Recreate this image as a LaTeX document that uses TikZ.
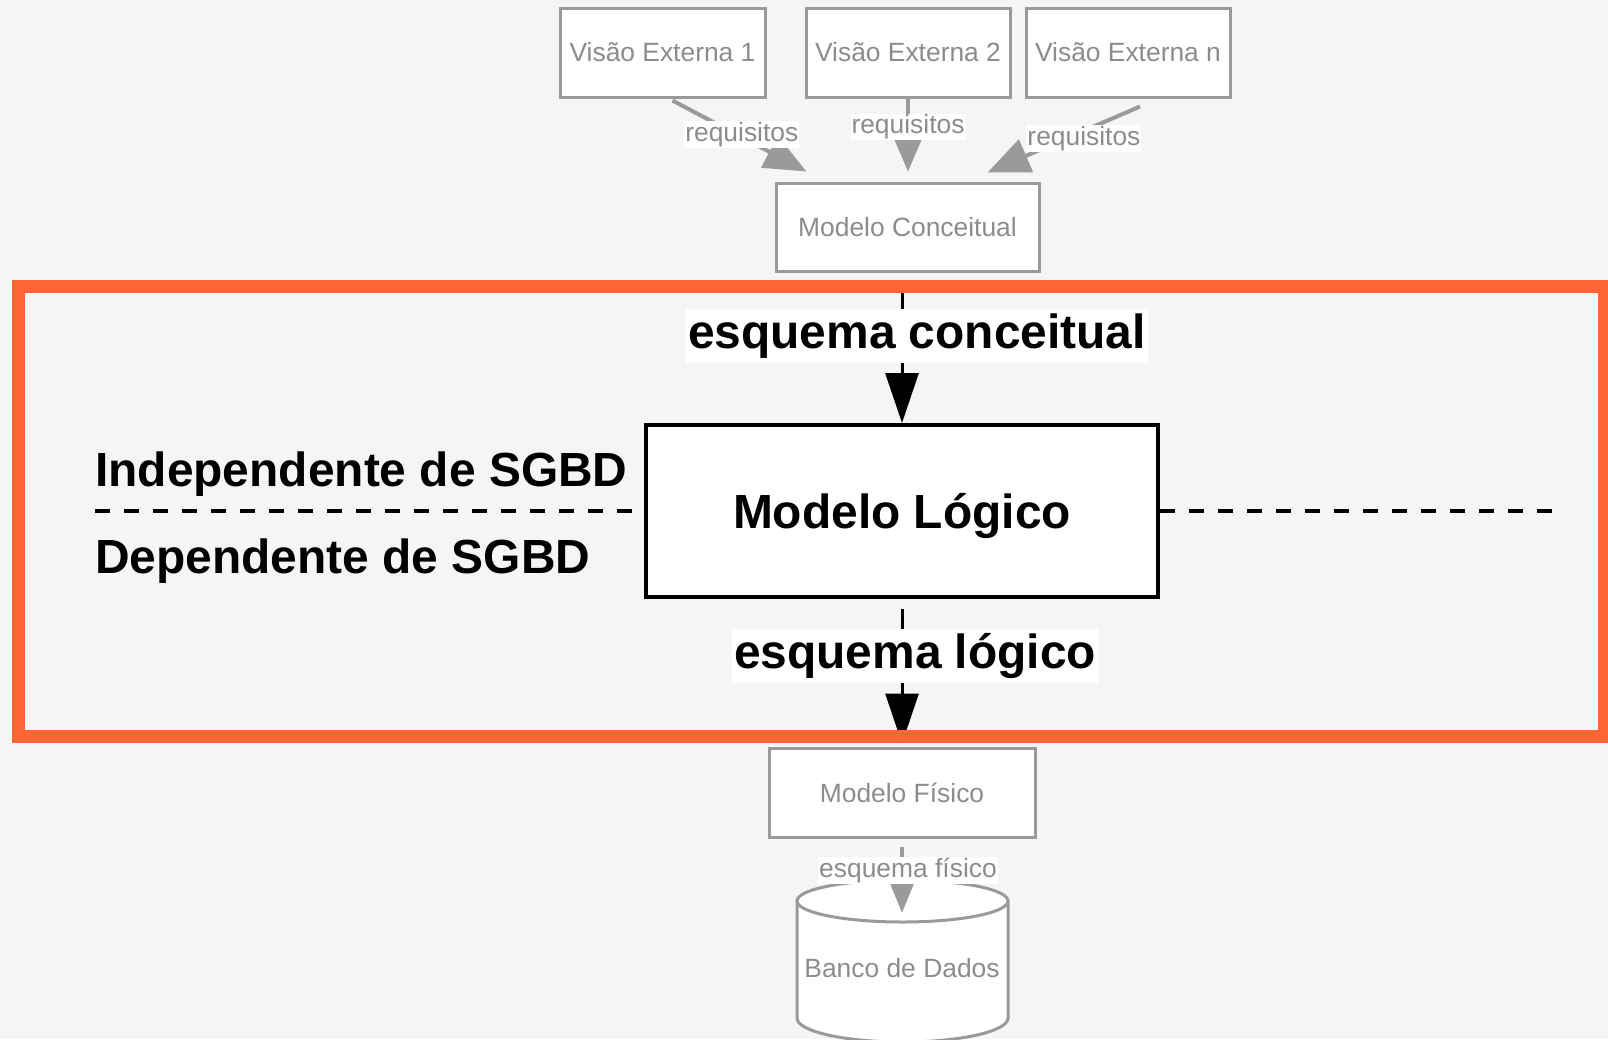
\documentclass[tikz,border=0pt]{standalone}
\usepackage{fontspec}
\setmainfont{Liberation Sans}
\usepackage{xcolor}
\usepackage{tikz}
\usetikzlibrary{arrows.meta}

\definecolor{fundo}{HTML}{F5F5F3}
\definecolor{cinza}{HTML}{9A9A9A}
\definecolor{cinzatxt}{HTML}{8C8C8C}
\definecolor{laranja}{HTML}{FF6633}

\begin{document}
\begin{tikzpicture}[x=1pt,y=-1pt,
 caixa/.style={draw=cinza, line width=3pt, fill=white, text=cinzatxt, font=\fontsize{26.4}{30}\selectfont, minimum height=89pt, inner sep=0pt},
 rot/.style={fill=white, text=cinzatxt, font=\fontsize{26.4}{30}\selectfont, inner sep=1pt},
 seta/.style={draw=cinza, line width=4pt, -{Triangle[length=42pt,width=35pt]}},
 negrito/.style={font=\fontsize{47.9}{55}\selectfont\bfseries},
 setap/.style={line width=3pt, -{Triangle[length=50pt,width=33pt]}},
 rotp/.style={negrito, fill=white, inner xsep=2pt, inner ysep=4.5pt},
 tracejado/.style={line width=4pt, dash pattern=on 15pt off 14pt}]
\useasboundingbox[fill=fundo] (0,0) rectangle (1608,1039);
\node[caixa, minimum width=205pt] (VE1) at (662.5,52.5) {Visão Externa 1};
\node[caixa, minimum width=204pt] (VE2) at (908,52.5) {Visão Externa 2};
\node[caixa, minimum width=204pt] (VEn) at (1128,52.5) {Visão Externa n};
\node[caixa, minimum width=263pt, minimum height=88pt] (MC) at (907.5,227) {Modelo Conceitual};
\draw[seta] ([xshift=10pt,yshift=-2pt]VE1.south) -- node[rot, pos=.48, xshift=5pt]{requisitos} ([xshift=32pt,yshift=10pt]MC.north west);
\draw[seta] (VE2.south) -- node[rot, pos=.39]{requisitos} ([yshift=10pt]MC.north -| VE2.south);
\draw[seta] ([xshift=12pt,yshift=-8pt]VEn.south) -- node[rot, pos=.42, xshift=8pt, yshift=-4pt]{requisitos} ([xshift=-53pt,yshift=9pt]MC.north east);
\node[draw, line width=4pt, fill=white, negrito, minimum width=512pt, minimum height=172pt, text height=44pt, text depth=10pt] (ML) at (902,511) {Modelo Lógico};
\coordinate (esq) at (95,511);
\coordinate (dir) at (1557,511);
\draw[tracejado] (esq) -- (ML.west);
\draw[tracejado] (ML.east) -- (dir);
\node[negrito, anchor=base west, inner sep=0pt] (IND) at (95,486) {Independente de SGBD};
\node[negrito, anchor=base west, inner sep=0pt] (DEP) at (95,573) {Dependente de SGBD};
\node[caixa, minimum width=266pt] (MF) at (902,792.5) {Modelo Físico};
\draw[setap, shorten <=10pt] (MC.south -| ML.north) -- node[rotp, pos=.42, xshift=15pt] (EC) {esquema conceitual} (ML.north);
\draw[setap, shorten <=10pt, shorten >=3pt] (ML.south) -- node[rotp, pos=.385, xshift=13pt] (EL) {esquema lógico} (MF.north);
\fill[white] (797,901) -- (797,1018) arc[start angle=180, end angle=0, x radius=105.5, y radius=24] -- (1008,901) -- cycle;
\draw[cinza, line width=3pt, fill=white] (902.5,901) ellipse[x radius=105.5, y radius=21];
\draw[cinza, line width=3pt] (797,901) -- (797,1018) arc[start angle=180, end angle=0, x radius=105.5, y radius=24] -- (1008,901);
\node[text=cinzatxt, font=\fontsize{26.4}{30}\selectfont] (BD) at (902,968) {Banco de Dados};
\coordinate (BDtopo) at (902,913);
\draw[cinza, line width=4pt, -{Triangle[length=31pt,width=24pt]}, shorten <=8pt] (MF.south) -- node[rot, pos=.43, xshift=6pt] (EF) {esquema físico} (BDtopo);
\draw[laranja, line width=13pt] (18,286) rectangle (1604,736);
\end{tikzpicture}
\end{document}
